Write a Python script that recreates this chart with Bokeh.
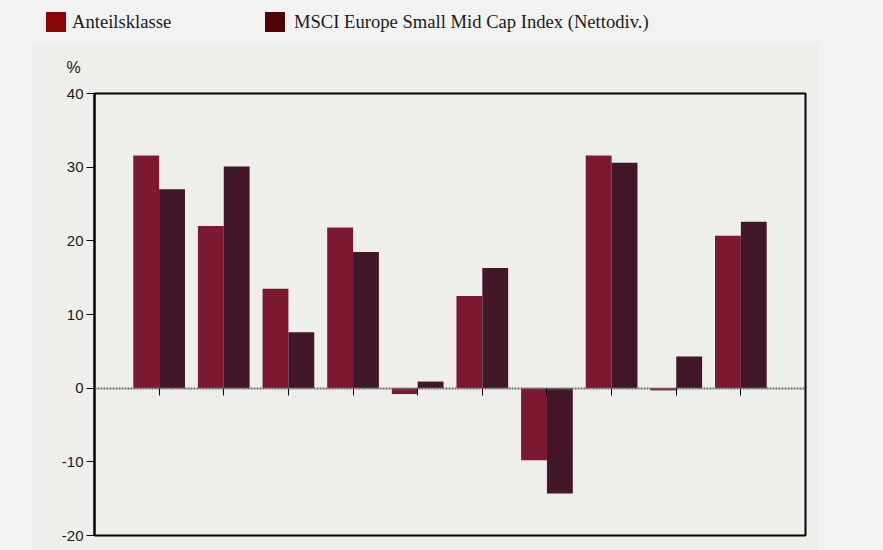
import numpy as np
from bokeh.plotting import figure
from bokeh.layouts import column
from bokeh.models import (Range1d, FixedTicker, LinearAxis, ColumnDataSource,
                          Div, PrintfTickFormatter)
from bokeh.embed import file_html
from bokeh.resources import INLINE

# ---- data ----
periods = ["1", "2", "3", "4", "5", "6", "7", "8", "9", "10"]
anteilsklasse = [31.6, 22.0, 13.5, 21.8, -0.8, 12.5, -9.8, 31.6, -0.3, 20.7]
msci_index = [27.0, 30.1, 7.6, 18.5, 0.9, 16.3, -14.3, 30.6, 4.3, 22.6]
y_ticks = [-20, -10, 0, 10, 20, 30, 40]
series_names = ["Anteilsklasse", "MSCI Europe Small Mid Cap Index (Nettodiv.)"]

BAR_A = "#7c1831"
BAR_M = "#421729"
LEG_A = "#8b0505"
LEG_M = "#4e0307"
OUTER = "#f2f2f2"
INNER = "#eeeeea"

DIV_H = 39
TOP_B = 54

# ---------- legend strip (HTML) ----------
legend_items = [(series_names[0], LEG_A, 46, 72), (series_names[1], LEG_M, 265, 294)]
parts = []
for name, col, left, tleft in legend_items:
    parts.append(
        f'<span style="position:absolute;left:{left}px;top:12px;width:20px;'
        f'height:20px;background:{col};"></span>'
        f'<span style="position:absolute;left:{tleft}px;top:12px;'
        f'line-height:20px;white-space:nowrap;">{name}</span>')
legend_html = (
    f'<div style="position:relative;width:883px;height:{DIV_H}px;'
    "font-family:'Liberation Serif';font-size:18.6px;color:#1a1a1a;\">"
    + "".join(parts) + "</div>")
legend_div = Div(text=legend_html, width=883, height=DIV_H,
                 styles={"background-color": OUTER, "margin": "0",
                         "padding": "0"})

# ---------- main chart ----------
pos = np.arange(1, len(periods) + 1)
src = ColumnDataSource(dict(xa=pos - 0.2, xm=pos + 0.2, a=anteilsklasse, m=msci_index))

fig_h = 550 - DIV_H
p = figure(width=883, height=fig_h, output_backend="svg",
           toolbar_location=None, x_range=Range1d(0, len(periods) + 1),
           y_range=Range1d(-20, 40), x_axis_location=None,
           min_border_left=94, min_border_top=TOP_B, min_border_right=78,
           min_border_bottom=15, title="%")
p.border_fill_alpha = 0
p.styles = {"background": f"linear-gradient({INNER}, {INNER}) 33px {43 - DIV_H}px / 785px {fig_h}px no-repeat, {OUTER}"}
p.background_fill_color = INNER
p.outline_line_color = "black"
p.outline_line_width = 2
p.grid.visible = False

t = p.title
t.align = "left"
t.offset = -28
t.standoff = 35
t.text_font = "Liberation Sans"
t.text_font_style = "normal"
t.text_font_size = "16px"
t.text_color = "#1a1a1a"

p.vbar(x="xa", top="a", bottom=0, width=0.4, source=src,
       fill_color=BAR_A, line_color=None)
p.vbar(x="xm", top="m", bottom=0, width=0.4, source=src,
       fill_color=BAR_M, line_color=None)

# y axis
ya = p.yaxis[0]
ya.ticker = FixedTicker(ticks=y_ticks)
ya.formatter = PrintfTickFormatter(format="%d")
ya.axis_line_color = "black"
ya.axis_line_width = 2
ya.major_tick_out = 8
ya.major_tick_in = 0
ya.minor_tick_out = 0
ya.minor_tick_in = 0
ya.major_tick_line_color = "black"
ya.major_label_text_font = "Liberation Sans"
ya.major_label_text_font_size = "15px"
ya.major_label_text_color = "#1a1a1a"
ya.major_label_standoff = 3

# zero axis with ticks
xa = LinearAxis(fixed_location=0, ticker=FixedTicker(ticks=list(pos)))
xa.axis_line_color = "#6e6e6e"
xa.axis_line_width = 2
xa.axis_line_dash = "2 1"
xa.major_tick_out = 7
xa.major_tick_in = 0
xa.minor_tick_out = 0
xa.minor_tick_in = 0
xa.major_tick_line_color = "black"
xa.major_label_text_font_size = "0px"
xa.major_label_text_alpha = 0
p.add_layout(xa, "below")

layout = column(legend_div, p, spacing=0)
open("out.html", "w").write(file_html(layout, INLINE))
